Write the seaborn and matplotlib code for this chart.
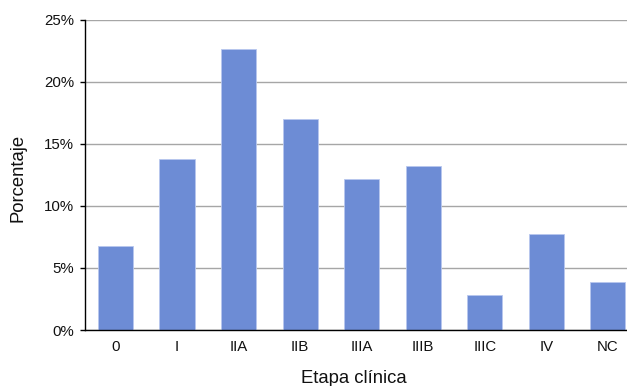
import matplotlib
matplotlib.use("Agg")
import matplotlib.pyplot as plt
import seaborn as sns
import pandas as pd
from matplotlib.ticker import FuncFormatter, MultipleLocator

# Distribution of cases by clinical stage (percent)
etapas = ["0", "I", "IIA", "IIB", "IIIA", "IIIB", "IIIC", "IV", "NC"]
porcentajes = [6.8, 13.8, 22.6, 17.0, 12.2, 13.2, 2.8, 7.7, 3.9]

df = pd.DataFrame({"Etapa": etapas, "Porcentaje": porcentajes})

sns.set_theme(style="white")
plt.rcParams["font.family"] = ["Liberation Sans", "DejaVu Sans"]

fig = plt.figure(figsize=(6.27, 3.86), dpi=100)
ax = fig.add_axes([84.7 / 627, 1 - 330 / 386, 554 / 627, 310.3 / 386])

sns.barplot(data=df, x="Etapa", y="Porcentaje", color="#6d8cd5",
            saturation=1, width=0.57, edgecolor="#b8c7ee", linewidth=0.6,
            ax=ax, zorder=3)

ax.set_ylim(0, 25)
ax.set_xlim(-0.5, len(etapas) - 0.5)
ax.yaxis.set_major_locator(MultipleLocator(5))
ax.yaxis.set_major_formatter(FuncFormatter(lambda v, _: f"{v:.0f}%"))
ax.grid(axis="y", color="#a6a6a6", linewidth=1.0, zorder=0)
ax.set_axisbelow(True)

for side in ("top", "right"):
    ax.spines[side].set_visible(False)
for side in ("left", "bottom"):
    ax.spines[side].set_color("black")
    ax.spines[side].set_linewidth(1.0)
    ax.spines[side].set_zorder(4)

ax.tick_params(axis="y", which="major", left=True, length=3.5, width=1.0,
               color="black", pad=4, labelsize=10.8, labelcolor="#111111")
ax.tick_params(axis="x", which="major", bottom=False, pad=1.5,
               labelsize=10.8, labelcolor="#111111")

ax.set_xlabel("Etapa clínica", fontsize=13.3, color="#111111", va="center")
ax.set_ylabel("Porcentaje", fontsize=13.3, color="#111111", va="center")
ax.xaxis.set_label_coords(0.486, -0.155)
ax.yaxis.set_label_coords(-0.12, 0.49)

fig.savefig("out.png", dpi=100)
